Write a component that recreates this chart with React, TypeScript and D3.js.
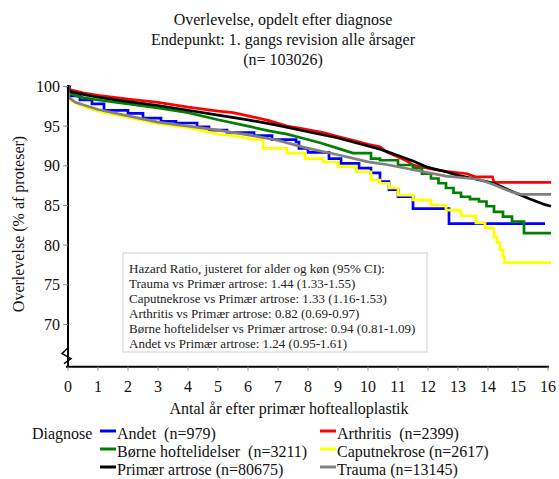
import React from "react";
import * as d3 from "d3";

const titleLines = ["Overlevelse, opdelt efter diagnose", "Endepunkt: 1. gangs revision alle årsager", "(n= 103026)"];
const xTicks = [0, 1, 2, 3, 4, 5, 6, 7, 8, 9, 10, 11, 12, 13, 14, 15, 16];
const yTicks = [70, 75, 80, 85, 90, 95, 100];
const xLabel = "Antal år efter primær hoftealloplastik";
const yLabel = "Overlevelse (% af proteser)";

const andet: [number, number][] = [[0,100],[0.05,98.8],[0.4,98.3],[0.8,97.8],[1.2,97.0],[2,96.6],[2.5,96.0],[3.1,95.6],[3.6,95.4],[4.3,94.9],[4.7,94.5],[5.3,94.2],[6.2,93.8],[6.8,93.3],[7.6,93.0],[7.7,92.2],[8.0,91.7],[8.7,90.9],[9.1,90.3],[9.7,89.7],[10.1,89.1],[10.4,88.0],[10.7,87.0],[11.0,86.1],[11.5,84.6],[12.7,82.7],[15.9,82.7]];
const arthritis: [number, number][] = [[0,100],[0.05,99.6],[0.5,99.2],[1,98.9],[2,98.4],[3,98.0],[4,97.4],[5,96.9],[5.5,96.7],[6,96.3],[6.7,95.7],[7.3,95.0],[7.8,94.7],[8.5,94.2],[9,93.7],[9.5,93.2],[10,92.7],[10.4,92.4],[10.6,91.8],[10.95,91.2],[11.3,90.6],[11.5,90.1],[12.1,89.6],[12.6,89.3],[13.3,89.0],[13.6,88.6],[14.15,88.6],[14.2,87.9],[16.1,87.9]];
const boerne: [number, number][] = [[0,100],[0.05,99.1],[0.5,98.6],[1,98.3],[2,97.8],[3,97.3],[4,96.7],[5,95.8],[6,95.0],[6.7,94.4],[7.3,94.0],[7.8,93.5],[8.4,92.9],[9,92.2],[9.5,91.6],[10.1,90.9],[10.4,90.7],[11,90.1],[11.5,89.7],[11.8,89.0],[12.1,88.4],[12.35,87.8],[12.6,87.2],[12.85,86.6],[13.1,86.1],[13.4,85.8],[13.7,85.5],[13.95,84.9],[14.2,84.2],[14.5,83.6],[14.8,82.95],[15.2,81.5],[16.1,81.5]];
const caput: [number, number][] = [[0,100],[0.03,98.4],[0.25,97.9],[0.5,97.5],[1,96.9],[2,96.1],[3,95.3],[4,94.8],[5,94.0],[5.5,93.8],[6.2,93.3],[6.5,92.2],[7.3,91.6],[7.9,90.9],[8.5,90.5],[9,89.9],[9.6,89.25],[10.1,88.2],[10.4,87.8],[10.7,87.2],[11,86.3],[11.5,85.7],[12.1,85.05],[12.6,84.4],[13.1,83.7],[13.6,82.8],[13.9,82.2],[14.2,81.0],[14.3,80.3],[14.4,79.4],[14.5,78.5],[14.55,77.8],[16.1,77.8]];
const primaer: [number, number][] = [[0,100],[0.05,99.4],[0.5,99.0],[1,98.65],[2,98.1],[3,97.6],[4,97.0],[5,96.4],[6,95.8],[7,95.1],[8,94.3],[9,93.5],[10,92.5],[10.4,92.1],[11,91.3],[11.5,90.6],[12,89.8],[12.6,89.25],[13,88.8],[13.5,88.4],[14.2,87.8],[14.6,87.1],[14.9,86.6],[15.4,85.8],[15.9,85.1],[16.1,84.9]];
const trauma: [number, number][] = [[0,100],[0.03,98.6],[0.25,98.0],[0.5,97.7],[1,97.1],[2,96.3],[3,95.5],[4,95.0],[5,94.5],[6,93.9],[7,93.2],[8,92.2],[9,91.4],[10,90.5],[10.7,90.1],[11.5,89.5],[12.6,88.7],[13.7,88.3],[14.2,87.6],[14.8,86.7],[15.1,86.4],[16.1,86.4]];

const seriesNames = ["Andet\u00A0 (n=979)", "Arthritis\u00A0 (n=2399)", "Børne hoftelidelser\u00A0 (n=3211)", "Caputnekrose (n=2617)", "Primær artrose (n=80675)", "Trauma (n=13145)"];
const seriesColors = ["#0000ff", "#ff0000", "#008000", "#ffff00", "#000000", "#808080"];
const seriesData = [andet, arthritis, boerne, caput, primaer, trauma];
// time from which the curve is drawn as a staircase (Infinity = never)
const seriesStepFrom = [0, Infinity, 9.4, 6.1, Infinity, Infinity];

const hrLines = [
  "Hazard Ratio, justeret for alder og køn (95% CI):",
  "Trauma vs Primær artrose: 1.44 (1.33-1.55)",
  "Caputnekrose vs Primær artrose: 1.33 (1.16-1.53)",
  "Arthritis vs Primær artrose: 0.82 (0.69-0.97)",
  "Børne hoftelidelser vs Primær artrose: 0.94 (0.81-1.09)",
  "Andet vs Primær artrose: 1.24 (0.95-1.61)",
];

function withSteps(d: [number, number][], from: number): [number, number][] {
  const out: [number, number][] = [];
  d.forEach((p, i) => {
    if (i > 0 && p[0] >= from && d[i - 1][0] >= from) out.push([p[0], d[i - 1][1]]);
    out.push(p);
  });
  return out;
}

export default function App() {
  const W = 559, H = 479;
  const x = d3.scaleLinear().domain([0, 16]).range([68, 548]);
  const y = d3.scaleLinear().domain([70, 100]).range([324.4, 86.5]);
  const axisY = y(64.67);
  const font = "'Liberation Serif', 'Times New Roman', serif";

  const lineGen = d3.line<[number, number]>().x(d => x(d[0])).y(d => y(d[1]));

  return (
    <svg width={W} height={H} style={{ position: "absolute", left: 0, top: 0, background: "#fff" }} fontFamily={font}>
      <rect width={W} height={H} fill="#fff" />
      {titleLines.map((t, i) => (
        <text key={i} x={283} y={25 + i * 20} textAnchor="middle" fontSize={16} fill="#111">{t}</text>
      ))}
      {seriesData.map((d, i) => (
        <path key={i} d={lineGen(withSteps(d, seriesStepFrom[i])) || ""} fill="none" stroke={seriesColors[i]} strokeWidth={2.7} strokeLinejoin="miter" />
      ))}
      {/* y axis */}
      <line x1={68} x2={68} y1={85} y2={axisY} stroke="#000" strokeWidth={2} />
      {yTicks.map(t => (
        <g key={t}>
          <line x1={63} x2={68} y1={y(t)} y2={y(t)} stroke="#888" strokeWidth={1} />
          <text x={60} y={y(t)} dy="0.35em" textAnchor="end" fontSize={16} fill="#111">{t}</text>
        </g>
      ))}
      <path d={`M68,${axisY - 19} L62,${axisY - 13} L71,${axisY - 8} L64,${axisY - 3}`} fill="none" stroke="#000" strokeWidth={1.5} />
      {/* x axis */}
      <line x1={66} x2={549} y1={axisY} y2={axisY} stroke="#000" strokeWidth={2} />
      {xTicks.map(t => (
        <g key={t}>
          <line x1={x(t)} x2={x(t)} y1={axisY} y2={axisY + 4} stroke="#888" strokeWidth={1} />
          <text x={x(t)} y={386} dy="0.35em" textAnchor="middle" fontSize={16} fill="#111">{t}</text>
        </g>
      ))}
      <text x={289} y={408} dy="0.35em" textAnchor="middle" fontSize={16} fill="#111">{xLabel}</text>
      <text transform={`translate(18,224) rotate(-90)`} textAnchor="middle" dy="0.35em" fontSize={16} fill="#111">{yLabel}</text>
      {/* HR box */}
      <rect x={123} y={253} width={304} height={99} fill="#fff" stroke="#d0d0d0" strokeWidth={1} />
      {hrLines.map((t, i) => (
        <text key={i} x={129} y={268 + i * 15} dy="0.35em" fontSize={13} fill="#222">{t}</text>
      ))}
      {/* legend */}
      <text x={32} y={433} dy="0.35em" fontSize={16} fill="#111">Diagnose</text>
      {seriesNames.map((n, i) => {
        const col = i % 2, row = Math.floor(i / 2);
        const lx = col === 0 ? 100 : 320;
        const ly = 433 + row * 18;
        return (
          <g key={i}>
            <line x1={lx} x2={lx + 16} y1={ly - 2} y2={ly - 2} stroke={seriesColors[i]} strokeWidth={3} />
            <text x={lx + 17} y={ly} dy="0.35em" fontSize={16} fill="#111">{n}</text>
          </g>
        );
      })}
    </svg>
  );
}
